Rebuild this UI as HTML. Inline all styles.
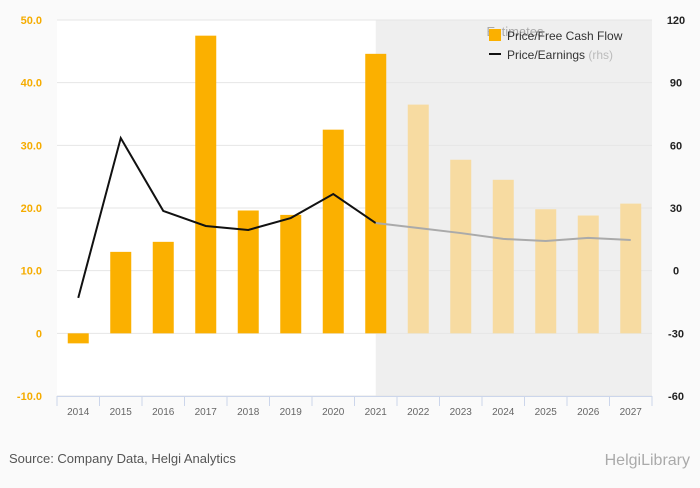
<!DOCTYPE html>
<html><head><meta charset="utf-8"><style>
body{margin:0;background:#fafafa;font-family:"Liberation Sans",sans-serif}
svg text{font-family:"Liberation Sans",sans-serif}
</style></head><body>
<svg id="c" width="700" height="483">
<rect x="0" y="0" width="700" height="483" fill="#fafafa"/>
<rect x="57" y="20" width="595" height="376" fill="#ffffff"/>
<g id="g"></g>
<text x="9" y="463" font-size="13" fill="#555">Source: Company Data, Helgi Analytics</text>
<text x="690" y="465" font-size="16" fill="#aaa" text-anchor="end">HelgiLibrary</text>
</svg>
<script>
const years=["2014","2015","2016","2017","2018","2019","2020","2021","2022","2023","2024","2025","2026","2027"];
const pfcf=[-1.6,13,14.6,47.5,19.6,18.9,32.5,44.6,36.5,27.7,24.5,19.8,18.8,20.7];
const pe=[-13,63.5,28.6,21.4,19.5,25.2,36.7,22.8,20.4,18,15.2,14.2,15.7,14.7];
const leftTicks=[-10,0,10,20,30,40,50];
const rightTicks=[-60,-30,0,30,60,90,120];
const estStart=8;
const NS="http://www.w3.org/2000/svg";
const g=document.getElementById('g');
const X0=57,X1=652,Y0=20,Y1=396,bw=(X1-X0)/years.length;
const yL=v=>Y0+(50-v)*(Y1-Y0)/60;
const yR=v=>Y0+(120-v)*(Y1-Y0)/180;
const xc=i=>X0+bw*(i+0.5);
function mk(t,a,txt){const e=document.createElementNS(NS,t);for(const k in a)e.setAttribute(k,a[k]);if(txt!=null)e.textContent=txt;g.appendChild(e);return e;}
const rs=xc(estStart-1);
let r=mk('rect',{x:rs,y:Y0,width:X1-rs,height:Y1-Y0,fill:'#efefef'});


let et=mk('text',{x:515,y:36,'font-size':13,fill:'#aaa','text-anchor':'middle'},'Estimates');


leftTicks.forEach(v=>{
 let l=mk('line',{x1:X0,x2:X1,y1:yL(v),y2:yL(v),stroke:'#e6e6e6'});
 
 
 let t=mk('text',{x:42,y:yL(v)+4,'font-size':11,fill:'#f5ac00','text-anchor':'end','font-weight':'bold'},v===0?'0':v.toFixed(1));
 
 
});
rightTicks.forEach(v=>{
 let t=mk('text',{x:676,y:yR(v)+4,'font-size':11,fill:'#222','text-anchor':'middle','font-weight':'bold'},String(v));
 
 
});
pfcf.forEach((v,i)=>{
 const y=Math.min(yL(v),yL(0)),h=Math.abs(yL(v)-yL(0));
 let b=mk('rect',{x:xc(i)-10.5,y:y,width:21,height:h,fill:i>=estStart?'#f7dba1':'#fbb000'});
 
 
});
let p1=pe.slice(0,estStart).map((v,i)=>xc(i)+','+yR(v)).join(' ');
let p2=pe.slice(estStart-1).map((v,i)=>xc(i+estStart-1)+','+yR(v)).join(' ');
let l1=mk('polyline',{points:p1,fill:'none',stroke:'#111','stroke-width':2});


let l2=mk('polyline',{points:p2,fill:'none',stroke:'#aaa','stroke-width':2});


let ax=mk('line',{x1:X0,x2:X1,y1:Y1+0.5,y2:Y1+0.5,stroke:'#ccd6eb'});


for(let i=0;i<=years.length;i++){
 let tk=mk('line',{x1:X0+bw*i,x2:X0+bw*i,y1:Y1,y2:Y1+10,stroke:'#ccd6eb'});
 
 
}
years.forEach((y,i)=>{
 let t=mk('text',{x:xc(i),y:415,'font-size':10,fill:'#666','text-anchor':'middle'},y);
 
 
});
let lg1=mk('rect',{x:489,y:29,width:12,height:12,fill:'#fbb000'});


let lt1=mk('text',{x:507,y:40,'font-size':12,fill:'#333'},'Price/Free Cash Flow');


let lg2=mk('line',{x1:489,x2:501,y1:54,y2:54,stroke:'#111','stroke-width':2});


let lt2=mk('text',{x:507,y:59,'font-size':12,fill:'#333'},'Price/Earnings ');


const ts=document.createElementNS(NS,'tspan');ts.setAttribute('fill','#bbb');ts.textContent='(rhs)';lt2.appendChild(ts);
</script>
</body></html>
